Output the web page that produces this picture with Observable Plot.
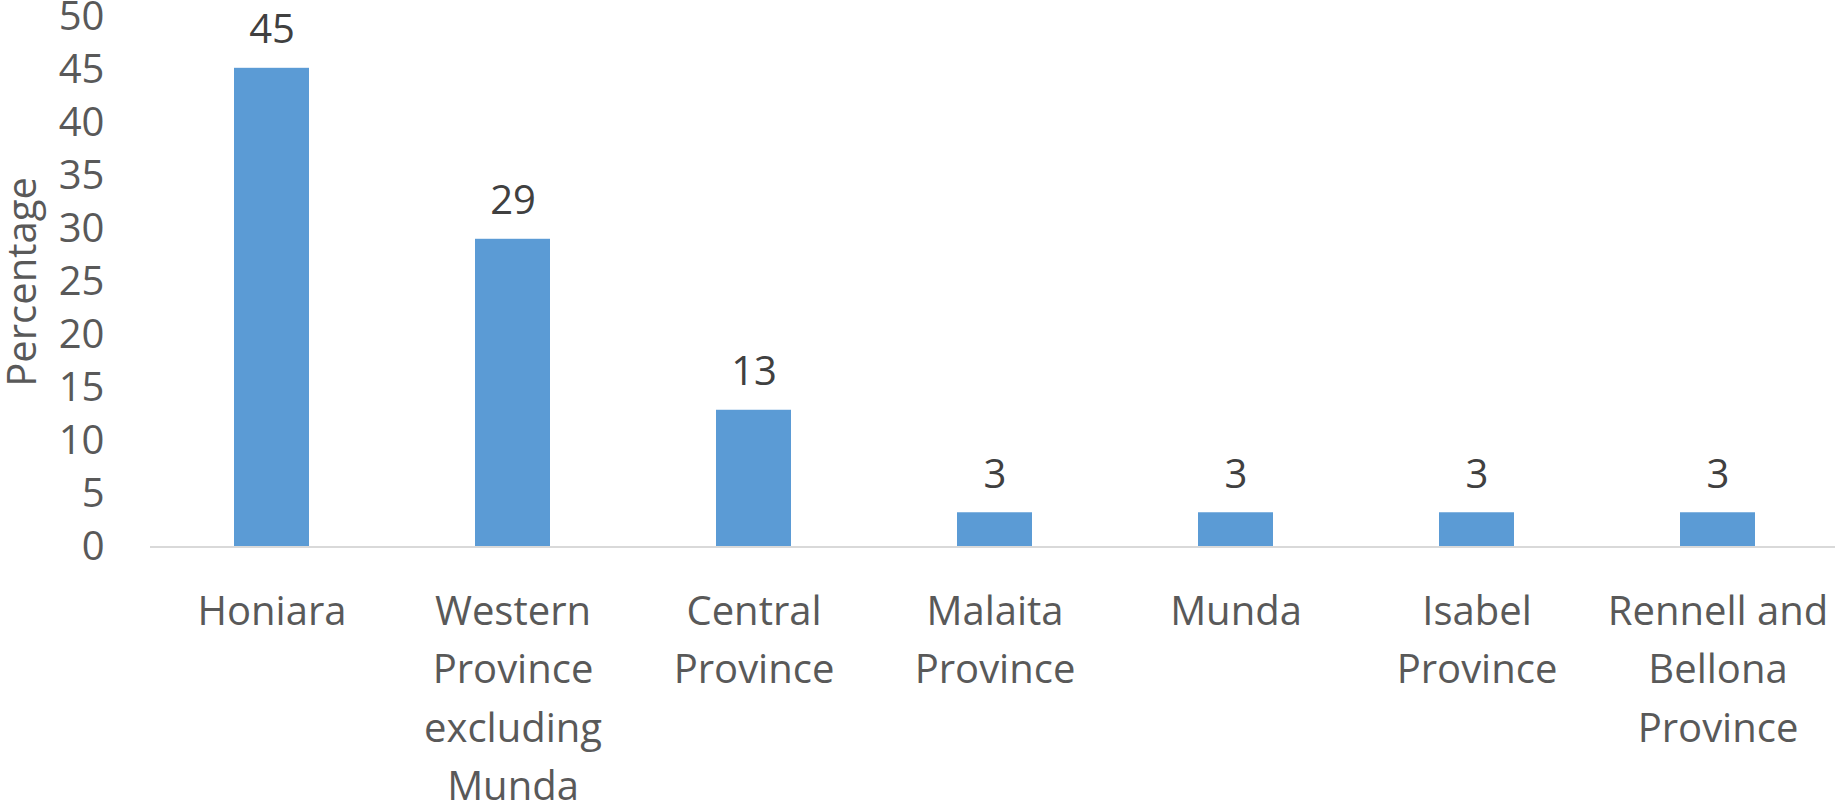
<!DOCTYPE html>
<html><head><meta charset="utf-8">
<script src="https://cdn.jsdelivr.net/npm/d3@7"></script>
<script src="https://cdn.jsdelivr.net/npm/@observablehq/plot@0.6"></script>
<style>html,body{margin:0;padding:0;background:#fff;overflow:hidden}</style>
</head><body><div id="chart"></div>
<script>
const categories = ["Honiara", "Western Province excluding Munda", "Central Province", "Malaita Province", "Munda", "Isabel Province", "Rennell and Bellona Province"];
const tickLabels = ["Honiara", "Western\nProvince\nexcluding\nMunda", "Central\nProvince", "Malaita\nProvince", "Munda", "Isabel\nProvince", "Rennell and\nBellona\nProvince"];
const percentages = [45.16, 29.03, 12.90, 3.23, 3.23, 3.23, 3.23];
const valueLabels = ["45", "29", "13", "3", "3", "3", "3"];
const yTicks = [0, 5, 10, 15, 20, 25, 30, 35, 40, 45, 50];

const data = categories.map((c, i) => ({category: c, value: percentages[i], label: valueLabels[i]}));
const labelOf = new Map(categories.map((c, i) => [c, tickLabels[i]]));

const chart = Plot.plot({
  width: 1835, height: 802,
  marginLeft: 150, marginRight: 0, marginTop: 16.5, marginBottom: 255.5,
  style: {fontFamily: "'Open Sans', sans-serif", fontSize: "40px", color: "#595959", background: "#fff"},
  x: {domain: categories, range: [150, 1840], paddingInner: 0.687, paddingOuter: 0.3435, align: 0.5, label: null},
  y: {domain: [0, 50], ticks: yTicks, label: "Percentage"},
  marks: [
    Plot.barY(data, {x: "category", y: "value", fill: "#5b9bd5"}),
    Plot.ruleY([0], {stroke: "#d9d9d9", strokeWidth: 2}),
    Plot.text(data, {x: "category", y: "value", text: "label", lineAnchor: "bottom", dy: -25, fill: "#404040", fontSize: 40}),
    Plot.axisX({tickSize: 0, tickPadding: 36, tickFormat: d => labelOf.get(d), lineHeight: 1.4625, fontSize: 40, label: null}),
    Plot.axisY({ticks: yTicks, tickSize: 0, tickPadding: 46, label: "Percentage", labelAnchor: "center", labelArrow: "none", labelOffset: 143, fontSize: 40})
  ]
});
document.getElementById("chart").appendChild(chart);
</script>
</body></html>
